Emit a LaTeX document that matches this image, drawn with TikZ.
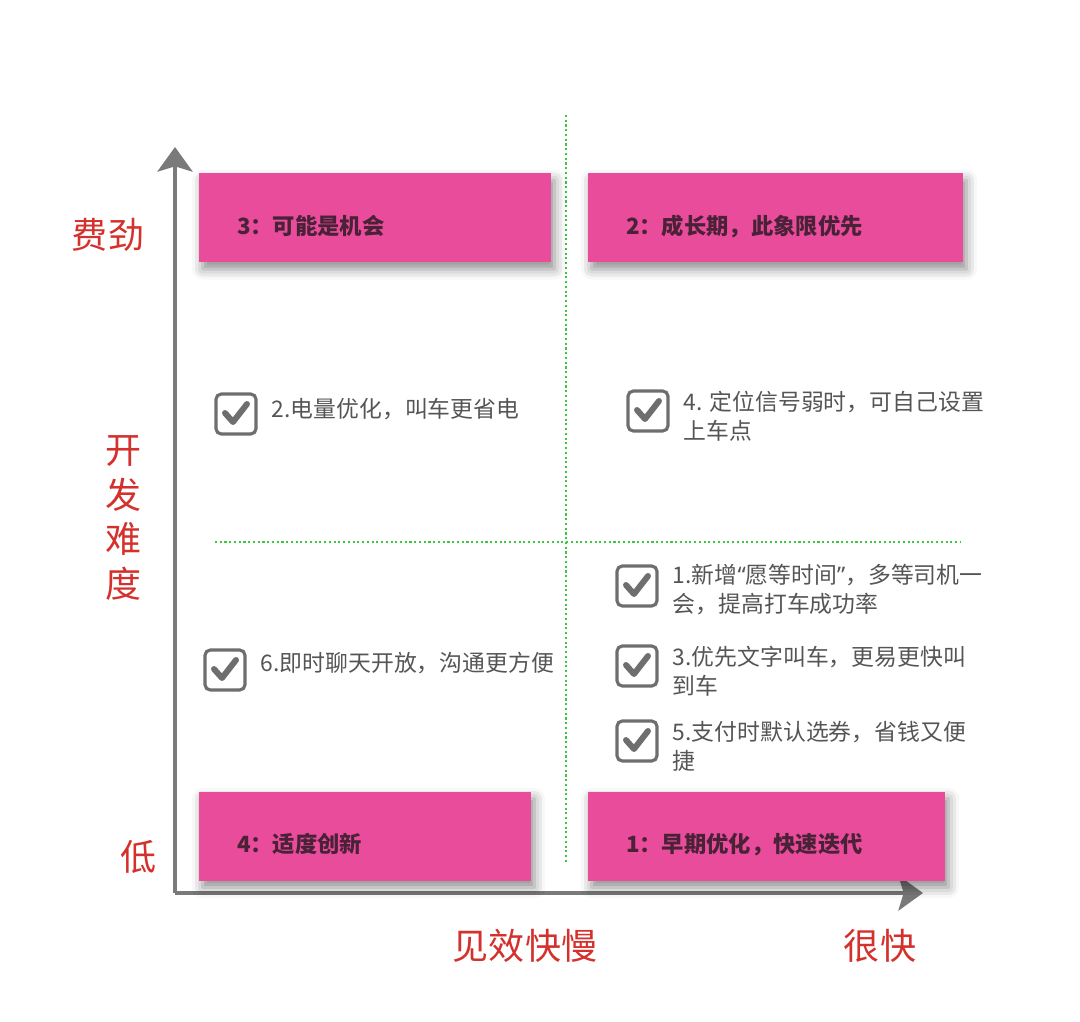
\documentclass[tikz,border=0pt]{standalone}
\usepackage{fontspec}
\setmainfont{Noto Sans CJK SC}
\newfontfamily\quotefont{Noto Sans}
\usepackage{tikz}
\usetikzlibrary{arrows.meta,positioning,shadows.blur}

\definecolor{quadpink}{HTML}{E84C9A}
\definecolor{quadtext}{HTML}{4A2238}
\definecolor{axisgray}{HTML}{7A7A7A}
\definecolor{chkgray}{HTML}{6E6E6E}
\definecolor{itemgray}{HTML}{555555}
\definecolor{labelred}{HTML}{D4302C}
\definecolor{gridgreen}{HTML}{3CC83C}

\begin{document}
\begin{tikzpicture}[x=0.02cm,y=-0.02cm,
    quad/.style={fill=quadpink, minimum height=1.78cm, inner xsep=0.76cm, align=left,
      text height=0.78cm, text depth=0.12cm,
      text=quadtext, font=\bfseries\fontsize{12.7}{14}\selectfont,
      blur shadow={shadow xshift=2pt, shadow yshift=-4pt, shadow blur radius=6pt, shadow opacity=45}},
    chk/.style={draw=chkgray, line width=1.8pt, rounded corners=3pt, minimum size=0.8cm,
      inner sep=0pt, fill=white,
      path picture={\draw[chkgray, line width=3.4pt, sharp corners, line cap=round, line join=round]
        ([shift={(-11,-1)}]path picture bounding box.center) -- ++(8,9) -- ++(14,-18);}},
    item/.style={inner sep=0pt, anchor=west, align=left, text=itemgray,
      font=\fontsize{13}{16.5}\selectfont},
    axislabel/.style={text=labelred, font=\fontsize{20.5}{25}\selectfont, align=center},
    axis/.style={draw=axisgray, line width=2.3pt, -{Stealth[length=14pt, width=20pt, inset=3pt]}},
    grid/.style={draw=gridgreen, line width=1.5pt, dash pattern=on 1.2pt off 1.5pt}]
  \useasboundingbox (0,0) rectangle (1080,1022);

  % quadrant dividers
  \coordinate (vtop) at (566,115);
  \coordinate (vbot) at (566,862);
  \coordinate (hleft) at (215,542);
  \coordinate (hright) at (960,542);
  \draw[grid] (vtop) -- (vbot);
  \draw[grid] (hleft) -- (hright);

  % axes
  \coordinate (O) at (175,893);
  \coordinate (ytip) at (175,147);
  \coordinate (xtip) at (923,893);
  \draw[axis] (O) -- (ytip);
  \draw[axis] (O) -- (xtip);

  % quadrant titles
  \node[quad, text width=5.52cm] (q3) at (375,217.5) {3：可能是机会};
  \node[quad, text width=5.98cm] (q2) at (775.5,217.5) {2：成长期，此象限优先};
  \node[quad, text width=5.12cm] (q4) at (365,836) {4：适度创新};
  \node[quad, text width=5.62cm] (q1) at (766.5,836) {1：早期优化，快速迭代};

  % items
  \node[chk] (c2) at (236,414) {};
  \node[item] (t2) [right=0.28cm of c2, yshift=0.1cm] {2.电量优化，叫车更省电};
  \node[chk] (c4) at (648,411) {};
  \node[item] (t4) [right=0.28cm of c4, yshift=-0.1cm] {4. 定位信号弱时，可自己设置\\上车点};
  \node[chk] (c1) at (637,586) {};
  \node[item] (t1) [right=0.28cm of c1, yshift=-0.08cm] {1.新增{\quotefont“}愿等时间{\quotefont”}，多等司机一\\会，提高打车成功率};
  \node[chk] (c6) at (225,670) {};
  \node[item] (t6) [right=0.28cm of c6, yshift=0.14cm] {6.即时聊天开放，沟通更方便};
  \node[chk] (c3) at (637,666) {};
  \node[item] (t3) [right=0.28cm of c3, yshift=-0.1cm] {3.优先文字叫车，更易更快叫\\到车};
  \node[chk] (c5) at (637,741) {};
  \node[item] (t5) [right=0.28cm of c5, yshift=-0.1cm] {5.支付时默认选券，省钱又便\\捷};

  % axis labels
  \node[axislabel] (hard) at (108,235) {费劲};
  \node[axislabel, font=\fontsize{20.5}{25.5}\selectfont] (ylab) at (124,518) {开\\发\\难\\度};
  \node[axislabel] (low) at (139,857) {低};
  \node[axislabel] (xlab) at (525,946) {见效快慢};
  \node[axislabel] (fast) at (880,946) {很快};
\end{tikzpicture}
\end{document}
